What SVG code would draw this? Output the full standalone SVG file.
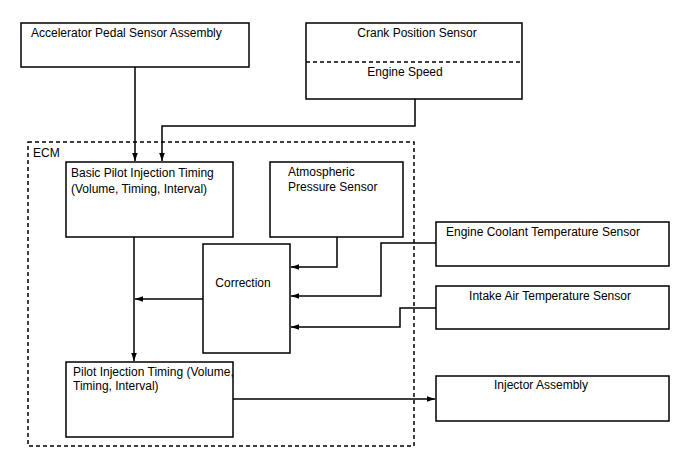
<svg xmlns="http://www.w3.org/2000/svg" width="688" height="463" viewBox="0 0 688 463">
<style>
.box{fill:#fff;stroke:#000;stroke-width:1.5}
.dash{fill:none;stroke:#000;stroke-width:1.5;stroke-dasharray:4,3}
.ln{fill:none;stroke:#000;stroke-width:1.5}
text{font-family:"Liberation Sans",Arial,sans-serif;font-size:12px;fill:#000}
</style>
<defs>
<marker id="ah" viewBox="0 0 10 10" refX="10" refY="5" markerWidth="8" markerHeight="8" markerUnits="userSpaceOnUse" orient="auto">
<path d="M0,1.5 L10,5 L0,8.5 Z" fill="#000"/>
</marker>
</defs>
<rect width="688" height="463" fill="#fff"/>
<g id="ecm">
<rect class="dash" x="28" y="142" width="386" height="304"/>
<text x="33" y="157">ECM</text>
</g>
<g id="accel">
<rect class="box" x="21" y="23" width="228" height="44"/>
<text x="31" y="37">Accelerator Pedal Sensor Assembly</text>
</g>
<g id="crank">
<rect class="box" x="306" y="23" width="216" height="76"/>
<line class="dash" x1="306" y1="62" x2="522" y2="62"/>
<text x="417" y="37" text-anchor="middle">Crank Position Sensor</text>
<text x="405" y="76" text-anchor="middle">Engine Speed</text>
</g>
<g id="basic">
<rect class="box" x="66" y="162" width="167" height="75"/>
<text x="71" y="177">Basic Pilot Injection Timing</text>
<text x="71" y="193">(Volume, Timing, Interval)</text>
</g>
<g id="atmo">
<rect class="box" x="270" y="162" width="133" height="75"/>
<text x="288" y="176">Atmospheric</text>
<text x="288" y="191">Pressure Sensor</text>
</g>
<g id="correction">
<rect class="box" x="203" y="244" width="87" height="109"/>
<text x="243" y="287" text-anchor="middle">Correction</text>
</g>
<g id="coolant">
<rect class="box" x="436" y="222" width="233" height="44"/>
<text x="446" y="236">Engine Coolant Temperature Sensor</text>
</g>
<g id="intake">
<rect class="box" x="436" y="286" width="233" height="43"/>
<text x="550" y="300" text-anchor="middle">Intake Air Temperature Sensor</text>
</g>
<g id="pilot">
<rect class="box" x="66" y="362" width="167" height="75"/>
<text x="73" y="376">Pilot Injection Timing (Volume,</text>
<text x="73" y="390">Timing, Interval)</text>
</g>
<g id="injector">
<rect class="box" x="436" y="376" width="233" height="45"/>
<text x="541" y="389" text-anchor="middle">Injector Assembly</text>
</g>
<g id="connectors">
<polyline class="ln" points="135,67 135,161" marker-end="url(#ah)"/>
<polyline class="ln" points="415,99 415,126 162,126 162,161" marker-end="url(#ah)"/>
<polyline class="ln" points="134,237 134,361" marker-end="url(#ah)"/>
<polyline class="ln" points="203,299 135,299" marker-end="url(#ah)"/>
<polyline class="ln" points="337,237 337,267 291,267" marker-end="url(#ah)"/>
<polyline class="ln" points="436,243 381,243 381,296 291,296" marker-end="url(#ah)"/>
<polyline class="ln" points="436,308 400,308 400,327 291,327" marker-end="url(#ah)"/>
<polyline class="ln" points="233,399 435,399" marker-end="url(#ah)"/>
</g>
</svg>
